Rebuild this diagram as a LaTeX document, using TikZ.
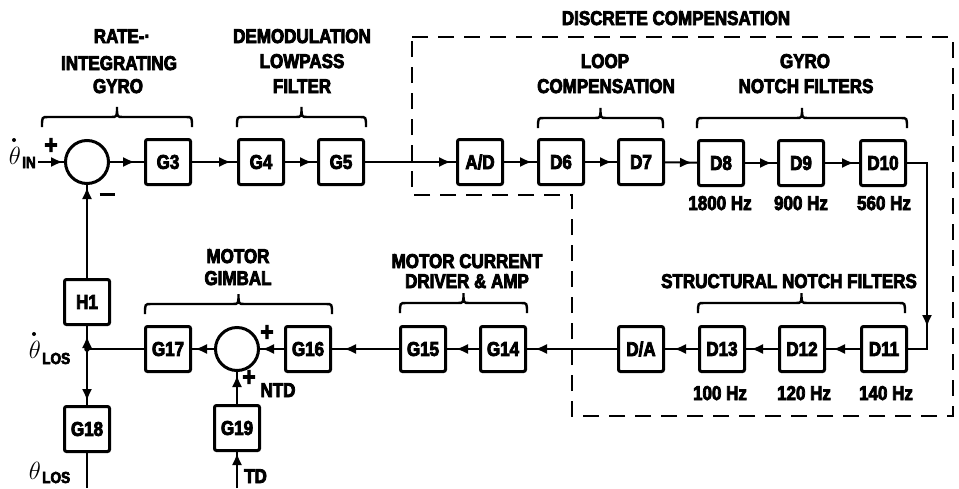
\documentclass[tikz,border=0pt]{standalone}
\usepackage{fontspec}
\newfontfamily\lbl{Liberation Sans}[FakeStretch=0.85, BoldFeatures={FakeBold=4}]
\usetikzlibrary{arrows.meta,decorations.markings}
\newcommand\lf{\lbl\bfseries\fontsize{20}{22}\selectfont}
\newcommand\subf{\lbl\bfseries\fontsize{16}{16}\selectfont}
\newcommand\plf{\lbl\bfseries\fontsize{26}{26}\selectfont}
\newcommand\mybrace[3]{%
  \draw[brc] (#1,#3) .. controls (#1,{#3-10}) .. ({#1+6},{#3-10})
    -- ({(#1+#2)/2-6},{#3-10}) .. controls ({(#1+#2)/2},{#3-10}) .. ({(#1+#2)/2},{#3-20})
    .. controls ({(#1+#2)/2},{#3-10}) .. ({(#1+#2)/2+6},{#3-10})
    -- ({#2-6},{#3-10}) .. controls (#2,{#3-10}) .. (#2,#3);}
\begin{document}
\begin{tikzpicture}[x=1pt,y=-1pt,
  blk/.style={draw, line width=3pt, rounded corners=2pt, minimum width=45pt,
    minimum height=45pt, inner sep=0pt, font=\lf},
  sum/.style={draw, circle, line width=3pt, minimum size=43pt, inner sep=0pt},
  ln/.style={line width=2pt},
  arw/.style={ln, postaction={decorate},
    decoration={markings, mark=at position #1 with {\arrow{Latex[length=12pt,width=10pt]}}}},
  arw/.default=-5pt,
  txt/.style={font=\lf, anchor=base, inner sep=0pt},
  sgn/.style={font=\plf, inner sep=0pt},
  brc/.style={line width=2.4pt},
  dsh/.style={line width=2.4pt, dash pattern=on 16pt off 10pt},
  thl/.style={anchor=base east, inner sep=0pt, font=\fontsize{24}{26}\selectfont},
  sub/.style={anchor=base west, inner sep=0pt, font=\subf}]
\useasboundingbox (0,0) rectangle (959,488);

% dashed region
\draw[dsh] (412,37) -- (953,37) -- (953,416) -- (572,416) -- (572,195) -- (412,195) -- cycle;

% blocks top row
\node[sum] (c1) at (87,162) {};
\node[blk] (g3) at (168,162) {G3};
\node[blk] (g4) at (261,162) {G4};
\node[blk] (g5) at (341,162) {G5};
\node[blk] (ad) at (480,162) {A/D};
\node[blk] (d6) at (561,162) {D6};
\node[blk] (d7) at (641,162) {D7};
\node[blk] (d8) at (721,163) {D8};
\node[blk] (d9) at (801,163) {D9};
\node[blk] (d10) at (883,163) {D10};
% bottom row
\node[blk] (d11) at (884,349) {D11};
\node[blk] (d12) at (802,349) {D12};
\node[blk] (d13) at (722,349) {D13};
\node[blk] (da) at (641,349) {D/A};
\node[blk] (g14) at (503,349) {G14};
\node[blk] (g15) at (423,349) {G15};
\node[blk] (g16) at (308,349) {G16};
\node[sum] (c2) at (237,349) {};
\node[blk] (g17) at (168,349) {G17};
\node[blk] (h1) at (87,302) {H1};
\node[blk] (g18) at (87,429) {G18};
\node[blk] (g19) at (237,428) {G19};
\coordinate (jn) at (87,349);
\coordinate (inS) at (38,162);
\coordinate (losE) at (87,488);
\coordinate (tdS) at (237,488);

% connectors
\draw[arw=-1pt] (inS) -- (c1.west);
\draw[arw=-9pt] (c1) -- (g3);
\draw[arw=-6pt] (g3) -- (g4);
\draw[arw] (g4) -- (g5);
\draw[arw] (g5) -- (ad);
\draw[arw] (ad) -- (d6);
\draw[arw] (d6) -- (d7);
\draw[arw] (d7) -- (d8);
\draw[arw] (d8) -- (d9);
\draw[arw] (d9) -- (d10);
\draw[arw=-41pt] (d10.east) -- ++(20,0) |- (d11.east);
\draw[arw=-7pt] (d11) -- (d12);
\draw[arw] (d12) -- (d13);
\draw[arw=-9pt] (d13) -- (da);
\draw[arw=-8pt] (da) -- (g14);
\draw[arw=-9pt] (g14) -- (g15);
\draw[arw=-12pt] (g15) -- (g16);
\draw[arw=-2pt] (g16) -- (c2);
\draw[arw=-3pt] (c2) -- (g17);
\draw[ln] (g17) -- (jn);
\draw[arw=13pt] (jn) -- (h1);
\draw[arw=-4pt] (jn) -- (g18);
\draw[ln] (g18) -- (losE);
\draw[arw=-2pt] (h1) -- (c1);
\draw[arw=-1pt] (tdS) -- (g19);
\draw[arw=-3pt] (g19) -- (c2);
\fill (jn) circle (2.8pt);

% braces
\mybrace{42}{192}{127}
\mybrace{237}{366}{127}
\mybrace{538}{663}{128}
\mybrace{697}{907}{128}
\mybrace{698}{905}{313}
\mybrace{400}{527}{313}
\mybrace{145}{332}{314}

% labels
\node[txt] (t1) at (122,43) {RATE-·};
\node[txt] (t2) at (119,70) {INTEGRATING};
\node[txt] (t3) at (118,93) {GYRO};
\node[txt] (t4) at (302,43) {DEMODULATION};
\node[txt] (t5) at (302,68) {LOWPASS};
\node[txt] (t6) at (302,93) {FILTER};
\node[txt] (t7) at (676,25) {DISCRETE COMPENSATION};
\node[txt] (t8) at (605,68) {LOOP};
\node[txt] (t9) at (606,93) {COMPENSATION};
\node[txt] (t10) at (805,68) {GYRO};
\node[txt] (t11) at (806,93) {NOTCH FILTERS};
\node[txt] (f1) at (720,210) {1800 Hz};
\node[txt] (f2) at (801,210) {900 Hz};
\node[txt] (f3) at (884,210) {560 Hz};
\node[txt] (t12) at (789,288) {STRUCTURAL NOTCH FILTERS};
\node[txt] (f4) at (720,400) {100 Hz};
\node[txt] (f5) at (804,400) {120 Hz};
\node[txt] (f6) at (886,400) {140 Hz};
\node[txt] (t13) at (467,268) {MOTOR CURRENT};
\node[txt] (t14) at (467,288) {DRIVER \& AMP};
\node[txt] (t15) at (238,263) {MOTOR};
\node[txt] (t16) at (238,285) {GIMBAL};
\node[txt] (ntd) at (278,397) {NTD};
\node[txt, anchor=base west] (td) at (244,483) {TD};

% signs
\node[sgn] (p1) at (51,146) {+};
\node[inner sep=0pt] (m1) at (107,194) {\rule{15pt}{3pt}};
\node[sgn] (p2) at (267,333) {+};
\node[sgn] (p3) at (249,378) {+};

% theta labels (dots drawn as shapes)
\node[thl] (thin) at (21,164) {$\theta$};
\fill (14,140) circle (2pt);
\node[sub] (sin) at (22,168) {IN};
\node[thl] (thlos) at (41,358) {$\theta$};
\fill (34,334) circle (2pt);
\node[sub] (slos) at (42,364) {LOS};
\node[thl] (thlos2) at (41,479) {$\theta$};
\node[sub] (slos2) at (42,483) {LOS};
\end{tikzpicture}
\end{document}
